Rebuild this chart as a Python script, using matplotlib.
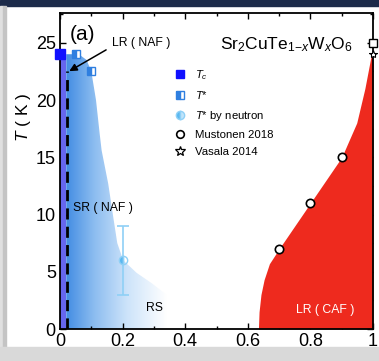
import numpy as np
import matplotlib
matplotlib.use('Agg')
import matplotlib.pyplot as plt
from matplotlib.patches import Polygon, Rectangle
from matplotlib.lines import Line2D
from matplotlib.ticker import MultipleLocator
from matplotlib.colors import LinearSegmentedColormap

plt.rcParams['font.family'] = ['Liberation Sans', 'DejaVu Sans']
plt.rcParams['mathtext.fontset'] = 'custom'
plt.rcParams['mathtext.rm'] = 'Liberation Sans'
plt.rcParams['mathtext.it'] = 'Liberation Sans:italic'
plt.rcParams['mathtext.bf'] = 'Liberation Sans:bold'

# ---------------- data ----------------
tc_x = [0.0]
tc_T = [24.0]
tstar_x = [0.05, 0.10]
tstar_T = [24.0, 22.5]
neutron_x = [0.2]
neutron_T = [6.0]
neutron_err = [3.0]
mustonen_x = [0.7, 0.8, 0.9]
mustonen_T = [7.0, 11.0, 15.0]
mustonen_end_x = [1.0]
mustonen_end_T = [25.0]
vasala_x = [1.0]
vasala_T = [24.0]

# LR (NAF) strip and dashed boundary
lr_naf_x = [0.0, 0.019]
lr_naf_T = 24.0
dash_x = 0.022
dash_T = [0.0, 22.5]

# SR (NAF) region boundary
sr_x = [0.02, 0.02, 0.06, 0.085, 0.10, 0.115, 0.127, 0.133, 0.154, 0.170,
        0.183, 0.202, 0.245, 0.293, 0.34, 0.37]
sr_T = [0.0, 24.0, 24.0, 23.5, 22.5, 20.0, 17.0, 15.6, 12.7, 9.8,
        7.5, 6.0, 4.9, 4.0, 3.0, 0.0]

# LR (CAF) region boundary
caf_T = [0, 1.5, 3, 4.3, 5.7, 7, 9, 11, 13, 15, 18, 21, 24, 24.3]
caf_x = [0.634, 0.636, 0.642, 0.652, 0.669, 0.70, 0.75, 0.80, 0.85, 0.90,
         0.948, 0.974, 0.995, 1.0]

xticks = [0, 0.2, 0.4, 0.6, 0.8, 1]
xticklabels = ['0', '0.2', '0.4', '0.6', '0.8', '1']
yticks = [0, 5, 10, 15, 20, 25]

# ---------------- figure ----------------
fig = plt.figure(figsize=(3.79, 3.61), dpi=100)
fig.patch.set_facecolor('white')
W, H = 379, 361
ax = fig.add_axes([60 / W, 1 - 329 / H, (373 - 60) / W, (329 - 13) / H])

# screenshot frame
fig.add_artist(Rectangle((0, 1 - 6 / H), 1, 6 / H, transform=fig.transFigure,
                         color='#1c2b4a', zorder=0))
fig.add_artist(Rectangle((0, 0), 3 / W, 1 - 6 / H, transform=fig.transFigure,
                         color='#e0e0e0', zorder=0))
fig.add_artist(Rectangle((3 / W, 14 / H), 3 / W, 1 - 20 / H, transform=fig.transFigure,
                         color='#c4c4c4', zorder=0))
fig.add_artist(Rectangle((0, 0), 1, 14 / H, transform=fig.transFigure,
                         color='#d9d9d9', zorder=0))

# SR (NAF) gradient region
cmap = LinearSegmentedColormap.from_list(
    'naf', [(0.0, (0.26, 0.55, 0.89)), (0.28, (0.55, 0.74, 0.94)),
            (0.6, (0.80, 0.89, 0.98)), (1.0, (1, 1, 1))])
grad = np.linspace(0, 1, 256).reshape(1, -1)
im = ax.imshow(grad, extent=[0.02, 0.34, 0, 24.5], aspect='auto', cmap=cmap,
               origin='lower', zorder=1, interpolation='bilinear')
poly = Polygon(np.column_stack([sr_x, sr_T]), closed=True, facecolor='none',
               edgecolor='none', transform=ax.transData)
ax.add_patch(poly)
im.set_clip_path(poly)

# LR (NAF) strip
ax.fill_between(lr_naf_x, 0, lr_naf_T, color='#6666ee', lw=0, zorder=2)
ax.plot([dash_x, dash_x], dash_T, color='k', lw=2.0, dashes=(4, 2.6), zorder=3)

# LR (CAF) region
ax.fill_betweenx(caf_T, caf_x, 1.0, color='#ee2a1e', lw=0, zorder=2)

# markers
ax.plot(tc_x, tc_T, 's', color='#1010ff', ms=6.5, clip_on=False, zorder=6)
ax.plot(tstar_x, tstar_T, 's', ms=5.5, fillstyle='left', mfc='#2f7fe0',
        mfcalt='white', mec='#2f7fe0', mew=1.0, ls='none', zorder=6)
ax.errorbar(neutron_x, neutron_T, yerr=neutron_err, fmt='o', ms=6, fillstyle='left',
            mfc='#5ab8f0', mec='#8fd0f6', ecolor='#8fd0f6', elinewidth=1.2,
            capsize=4, capthick=1.2, zorder=6)
ax.plot(mustonen_x, mustonen_T, 'o', ms=6, mfc='white', mec='k', mew=1.2, ls='none', zorder=7)
ax.plot(mustonen_end_x, mustonen_end_T, 's', ms=6, mfc='white', mec='k', mew=1.0,
        ls='none', clip_on=False, zorder=7)
ax.plot(vasala_x, vasala_T, '*', ms=6, mfc='white', mec='k', mew=0.8, ls='none',
        clip_on=False, zorder=6)

# legend
handles = [
    Line2D([], [], marker='s', color='#1010ff', ms=6, ls='none'),
    Line2D([], [], marker='s', ms=5.5, fillstyle='left', mfc='#2f7fe0', mfcalt='white',
           mec='#2f7fe0', ls='none'),
    Line2D([], [], marker='o', ms=6, fillstyle='left', mfc='#5ab8f0', mfcalt='#c0e4fa',
           mec='#8fd0f6', ls='none'),
    Line2D([], [], marker='o', ms=5.5, mfc='white', mec='k', mew=1.2, ls='none'),
    Line2D([], [], marker='*', ms=7, mfc='white', mec='k', mew=0.9, ls='none'),
]
labels = [r'$T_c$', r'$T$*', r'$T$* by neutron', 'Mustonen 2018', 'Vasala 2014']
ax.legend(handles, labels, loc='upper left', bbox_to_anchor=(0.36, 0.826),
          frameon=False, fontsize=8.2, handlelength=1.2, handletextpad=0.8,
          labelspacing=0.65, borderpad=0, borderaxespad=0)

# texts
ax.text(0.03, 25.7, '(a)', fontsize=15, ha='left', va='center')
ax.text(0.166, 25.0, 'LR ( NAF )', fontsize=8.8, ha='left', va='center')
ax.annotate('', xy=(0.022, 22.4), xytext=(0.155, 24.5),
            arrowprops=dict(arrowstyle='-|>', color='k', lw=1.1, mutation_scale=11),
            zorder=8)
ax.text(0.042, 10.6, 'SR ( NAF )', fontsize=8.8, ha='left', va='center')
ax.text(0.302, 1.85, 'RS', fontsize=8.8, ha='center', va='center')
ax.text(0.847, 1.7, 'LR ( CAF )', fontsize=8.8, ha='center', va='center', color='white')
ax.text(0.937, 24.8, r'Sr$_2$CuTe$_{1\mathrm{-}x}$W$_x$O$_6$', fontsize=12.5,
        ha='right', va='center')

# axes
ax.set_xlim(0, 1)
ax.set_ylim(0, 27.6)
ax.set_xticks(xticks)
ax.set_xticklabels(xticklabels)
ax.set_yticks(yticks)
ax.xaxis.set_minor_locator(MultipleLocator(0.1))
ax.yaxis.set_minor_locator(MultipleLocator(2.5))
ax.tick_params(which='both', direction='in', top=True, right=True, width=1.0,
               labelsize=13)
ax.tick_params(which='major', length=4.5, pad=3)
ax.tick_params(which='minor', length=2.2)
for s in ax.spines.values():
    s.set_linewidth(1.3)
ax.set_ylabel(r'$T$ ( K )', fontsize=12.5)
ax.yaxis.set_label_coords(-0.085, 0.67)

fig.savefig('out.png', dpi=100)
